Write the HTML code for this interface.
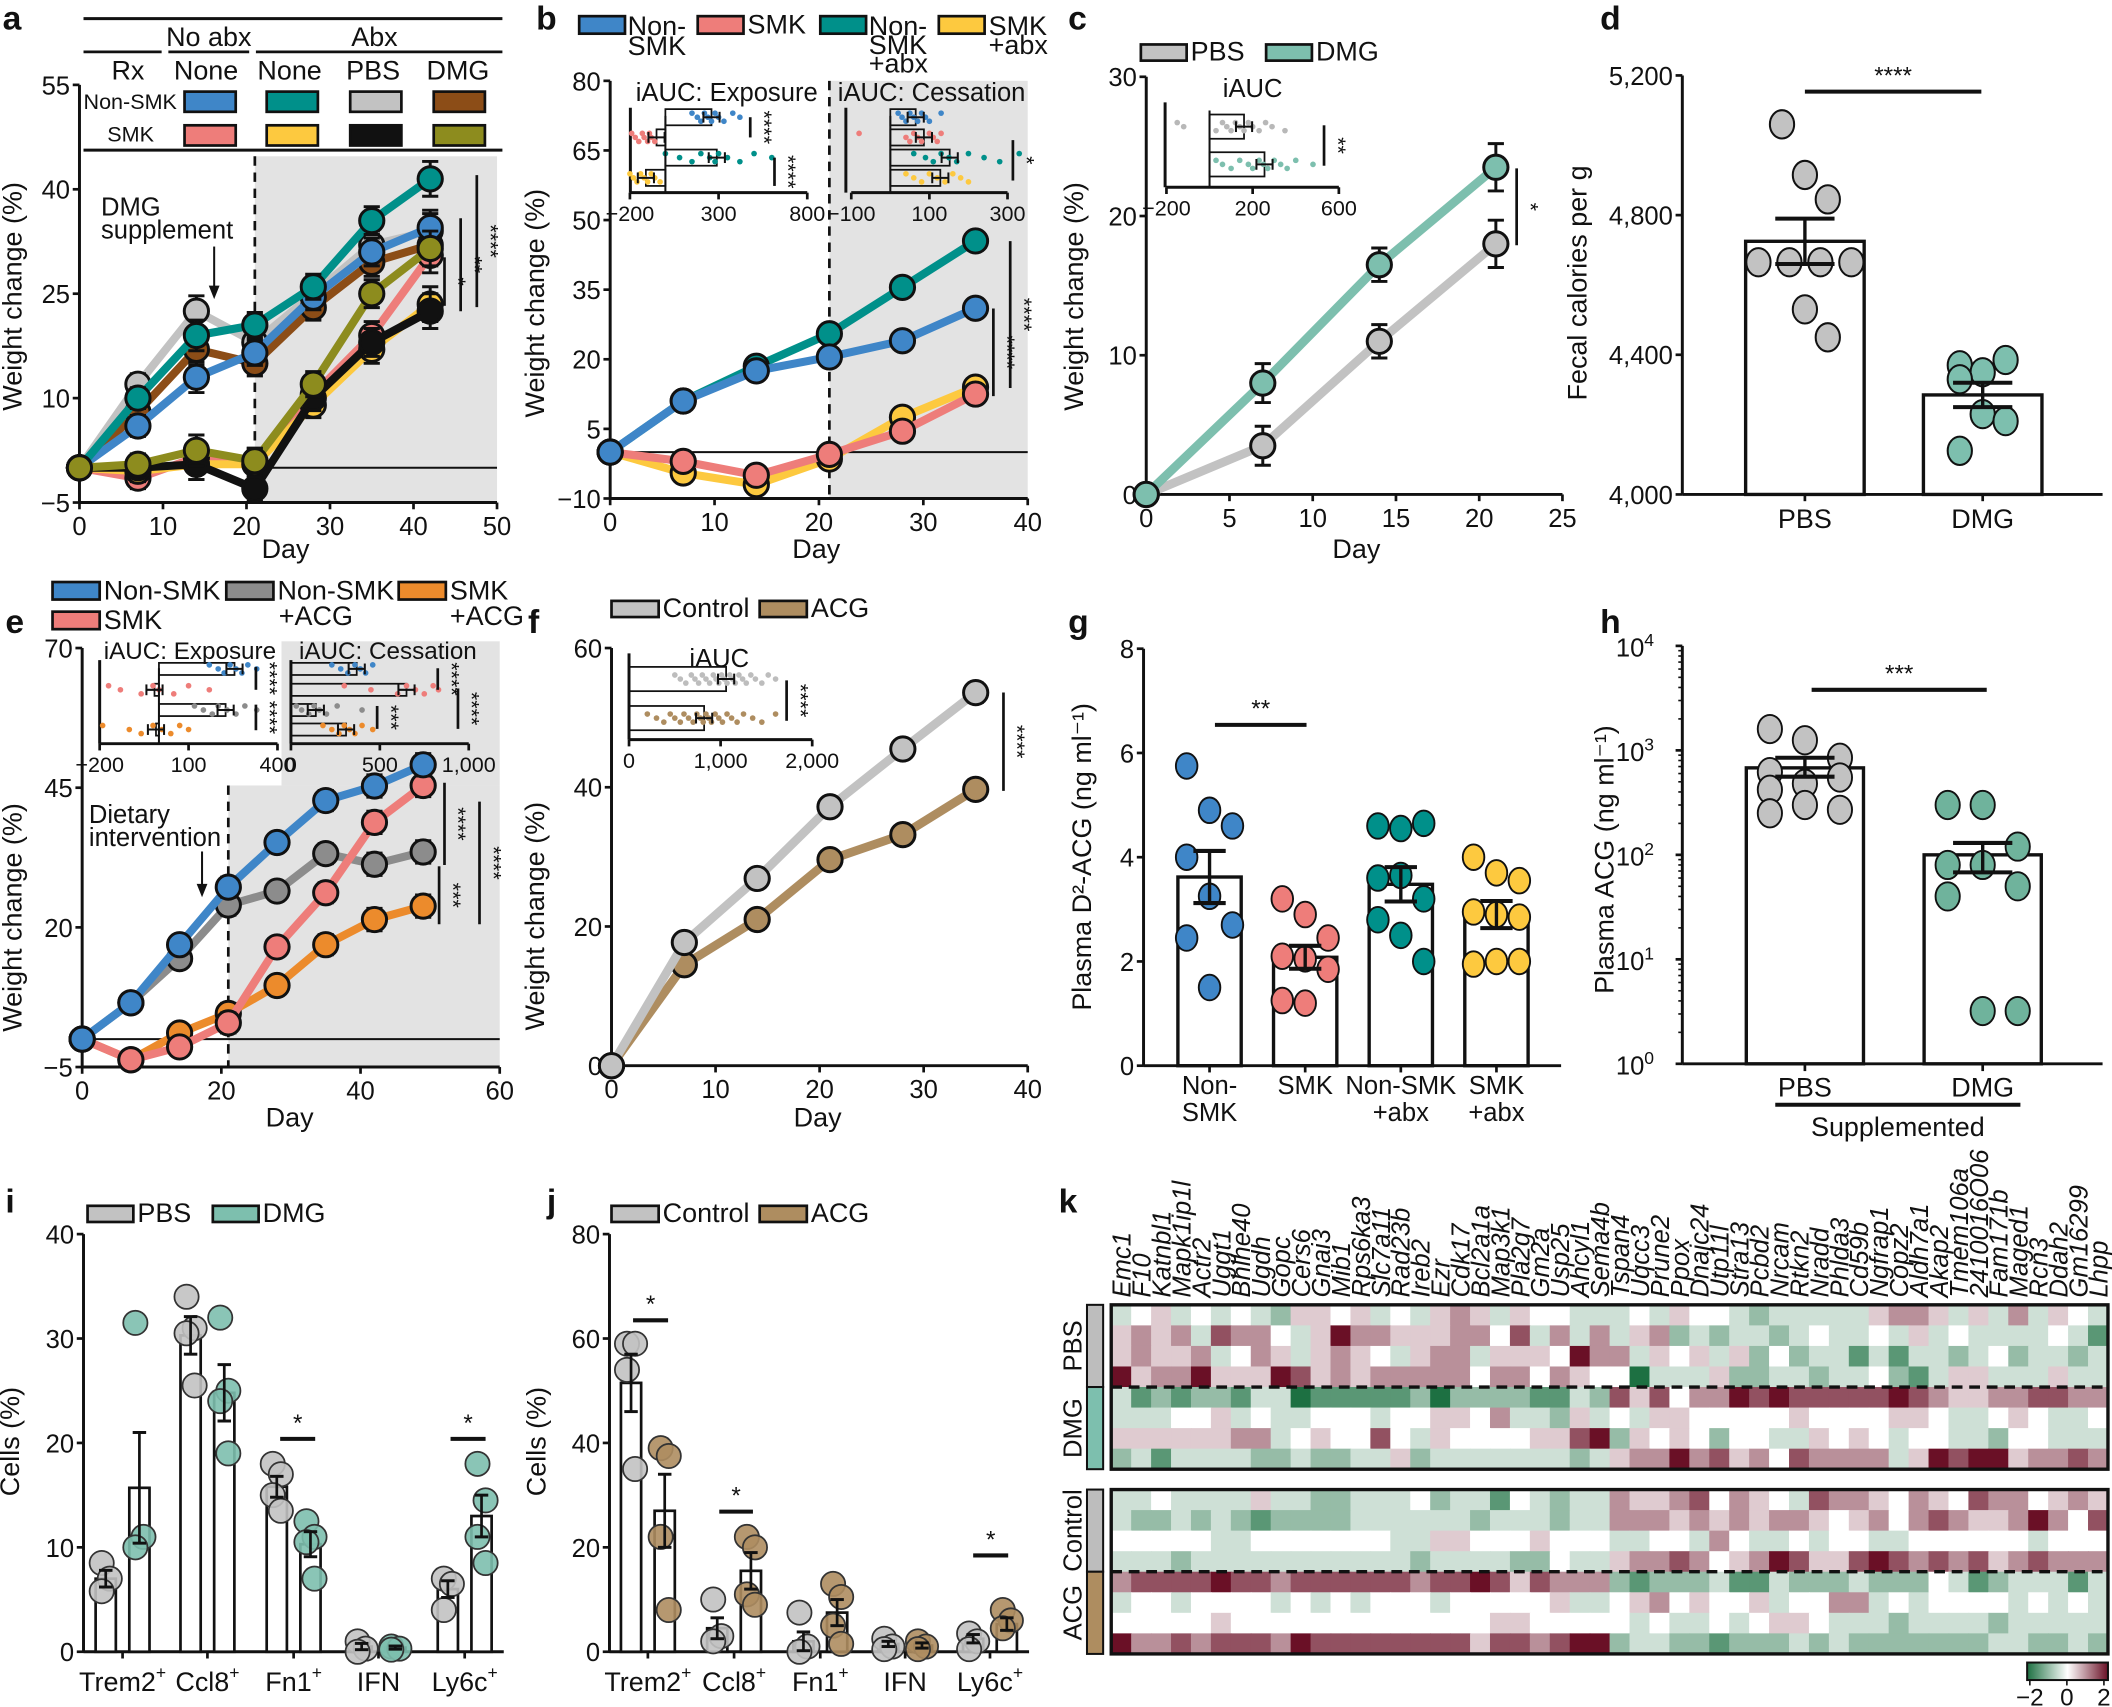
<!DOCTYPE html>
<html><head><meta charset="utf-8"><style>
html,body{margin:0;padding:0;background:#fff;}
svg{display:block;}
text{font-family:"Liberation Sans Narrow","Liberation Sans",Arial,sans-serif;fill:#111;}
</style></head><body>
<svg id="fig" xmlns="http://www.w3.org/2000/svg" width="2112" height="1707" viewBox="0 0 1568 1267" preserveAspectRatio="none"></svg>
<script>
// ---------------- DATA ----------------
const aDays=[0,7,14,21,28,35,42];
const aGray=[0,12,22.5,18,25,32,34];
const aBrown=[0,8,17,15,23,29.5,32];
const aBlue=[0,6,13,16.5,24.5,31,34.5];
const aTeal=[0,10,19,20.5,26,35.5,41.5];
const aPink=[0,-1.5,1.5,1,10.5,19,30.5];
const aOlive=[0,0.5,2.5,1,12,25,31.5];
const aYellow=[0,-0.5,0.5,0.5,9,17,23.5];
const aBlack=[0,0,0.5,-3,10,18,22.5];
const aErr=[0,1.5,2.2,1.8,1.8,2,2.5];
const aXTicks=[0,10,20,30,40,50];
const aYTicks=[-5,10,25,40,55];

const bDays=[0,7,14,21,28,35];
const bBlue=[0,11,17.5,20.5,24,31];
const bTeal=[0,11,18.5,25.5,35.5,45.5];
const bPink=[0,-2,-5,-0.5,4.5,12.5];
const bYellow=[0,-4.5,-7,-1.5,7.5,14];
const bErr=[0,1,1.2,1.5,2,2];
const bXTicks=[0,10,20,30,40];
const bYTicks=[-10,5,20,35,50,65,80];
const bExpMeans=[260,-50,290,-110];
const bExpDots=[[150,180,200,220,240,260,280,300,330,380,420],[-190,-170,-150,-130,-120,-100,-90,-80,-60],[0,80,150,200,250,280,300,350,420,500,600],[-200,-180,-160,-140,-120,-100,-80,-60,-30]];
const bCesMeans=[65,86,152,128];
const bCesDots=[[20,30,40,50,60,70,80,90,100,130],[-80,40,50,60,70,80,100,110,120,130],[60,90,110,130,150,170,200,240,280,330],[40,60,80,100,120,140,160,180,200]];

const cDays=[0,7,14,21];
const cPBS=[0,3.5,11,18];
const cDMG=[0,8,16.5,23.5];
const cErr=[0,1.4,1.2,1.7];
const cXTicks=[0,5,10,15,20,25];
const cYTicks=[0,10,20,30];
const cAucMeans=[160,255];
const cAucDots=[[-150,-120,30,60,80,100,120,140,160,180,200,230,260,290,350],[30,60,100,140,180,200,230,250,270,300,330,360,400,480]];

const dGroups=["PBS","DMG"];
const dMeans=[4725,4285];
const dSem=[65,35];
const dDots=[[5060,4915,4845,4665,4665,4665,4665,4530,4450],[4370,4350,4385,4330,4230,4210,4125]];
const dYTicks=[4000,4400,4800,5200];

const eDays=[0,7,14,21,28,35,42,49];
const eBlue=[0,6.5,16.9,27.2,35.2,42.7,45.3,49.1];
const eGray=[0,6.5,14.4,24,26.5,33.2,31.3,33.5];
const ePink=[0,-3.7,-1.4,2.9,16.5,26.2,38.8,45.4];
const eOrange=[0,-3.7,1.1,4.6,9.6,16.9,21.4,23.8];
const eErr=[0,0.8,1.5,1.8,1,1.8,2,2];
const eXTicks=[0,20,40,60];
const eYTicks=[-5,20,45,70];
const eExpMeans=[255,-15,225,-10];
const eExpDots=[[170,200,220,240,260,280,300,330],[-170,-130,-60,-20,0,50,100,170],[120,150,180,200,230,260,290,330],[-190,-100,-60,-20,10,40,70,100]];
const eCesMeans=[370,650,140,310];
const eCesDots=[[230,280,320,360,390,420,460],[300,450,600,650,700,750,800,830],[30,60,100,130,160,200,260,400],[180,230,270,300,330,360,400,460]];

const fDays=[0,7,14,21,28,35];
const fCtrl=[0,17.7,26.9,37.2,45.5,53.6];
const fACG=[0,14.5,21,29.6,33.2,39.7];
const fErr=[0,0.8,0.8,0.9,1.2,1.4];
const fXTicks=[0,10,20,30,40];
const fYTicks=[0,20,40,60];
const fAucMeans=[1060,820];
const fAucDots=[[500,560,620,680,720,760,800,840,880,920,950,980,1010,1040,1070,1100,1130,1160,1200,1240,1280,1330,1380,1450,1520,1600],[200,300,380,450,500,560,600,650,700,740,780,810,840,870,900,940,980,1020,1070,1120,1180,1250,1350,1450,1600]];

const gCats=[["Non-","SMK"],["SMK"],["Non-SMK","+abx"],["SMK","+abx"]];
const gMeans=[3.62,2.08,3.48,2.9];
const gSem=[0.5,0.22,0.33,0.26];
const gDots=[[5.75,4.9,4.6,4.0,3.25,2.7,2.45,1.5],[3.2,2.9,2.45,2.1,2.05,1.85,1.25,1.2],[4.6,4.55,4.65,3.6,3.65,3.2,2.8,2.5,2.0],[4.0,3.7,3.55,2.95,2.9,2.85,1.95,2.0,2.0]];
const gYTicks=[0,2,4,6,8];

const hMeans=[680,100];
const hLo=[560,68];
const hHi=[850,130];
const hDots=[[1600,1250,850,620,480,550,420,300,270,250],[300,300,120,80,80,50,40,3.2,3.2]];
const hDecades=[0,1,2,3,4];

const iCats=["Trem2","Ccl8","Fn1","IFN","Ly6c"];
const iPBS=[7,30.3,15.8,0.5,6];
const iDMG=[15.7,24.8,10.3,0.4,13];
const iPBSerr=[0.8,1.8,1.0,0.3,0.8];
const iDMGerr=[5.3,2.7,1.2,0.15,2.0];
const iPBSdots=[[8.5,7,5.8],[34,31,30.5,25.5],[18,17,15,13.5],[1,0.3,0],[7,6.5,4]];
const iDMGdots=[[31.5,11,10],[32,25,24,19],[12.5,11,10.5,7],[0.5,0.3,0.2],[18,14.5,11,8.5]];
const iYTicks=[0,10,20,30,40];

const jCtrl=[51.5,4.5,2,1.5,2.5];
const jACG=[27,15.5,7.5,1.2,5.3];
const jCtrlErr=[5.5,2,1.8,0.5,0.8];
const jACGErr=[7,3.5,2.5,0.5,1.2];
const jCtrlDots=[[59,59,54,35],[10,3,2],[7.5,1,0],[2.5,1,0.5],[3.5,2,0.5]];
const jACGDots=[[39,37.5,22,8],[22,20,11,9],[13,10.5,5,1.5],[2,1,0.5],[8,6,4.5]];
const jYTicks=[0,20,40,60,80];

const kGenes=["Emc1","F10","Katnbl1","Mapk1ip1l","Actr2","Uggt1","Bhlhe40","Ugdh","Gopc","Cers6","Gnai3","Mib1","Rps6ka3","Slc7a11","Rad23b","Ireb2","Ezr","Cdk17","Bcl2a1a","Map3k1","Pla2g7","Gm2a","Usp25","Ahcyl1","Sema4b","Tspan4","Uqcc3","Prune2","Ppox","Dnajc24","Utp11l","Stra13","Pcbd2","Nrcam","Rtkn2","Nradd","Phlda3","Cd59b","Ngfrap1","Copz2","Aldh7a1","Akap2","Tmem106a","2410016O06","Fam171b","Maged1","Rcn3","Ddah2","Gm16299","Lhpp"];
// levels 0 (z=-2, green) .. 4 (z=0) .. 8 (z=+2, red)
const kTop=[
"3453434325 5453435653 5443334354 4323333356 6535363543",
"5656376643 5866555664 7363635623 2332343343 5343333431",
"5655634653 5654356635 5548663545 3524233131 3323423323",
"8566855587 5656666646 6465440333 5223323342 1355333533",
"3121221330 1111120222 2113275746 6878777778 7655667766",
"3334453433 4443445546 3325343554 4444544445 5433454334",
"5555556634 5447435444 4557825454 2443354543 4433244333",
"2313333223 2233523333 3332356686 7564766663 5878856676"];
const kBottom=[
"3343333533 2233342331 4323365567 4654376654 6547664565",
"3223232122 2233333323 3323366656 5656654564 6765568647",
"4444433444 4444335544 4544433443 6433434433 4444443444",
"3332333333 3333323333 2243356676 4568755787 6767567666",
"6777787767 7777767787 5766621222 3113222322 2431233313",
"3443444434 3434443444 4453345645 4453446634 3444434343",
"4444454444 4444444445 5444443433 4345543332 3333233333",
"8667677768 7777777757 7678823322 1222323222 2222332232"];
const kScale=[-2,0,2];

// ---------------- HELPERS ----------------
const NS='http://www.w3.org/2000/svg';
const svg=document.getElementById('fig');
function lin(d0,d1,r0,r1){return v=>r0+(v-d0)*(r1-r0)/(d1-d0);}
function mk(tag,attrs,name,parent){
  const e=document.createElementNS(NS,tag);
  for(const k in attrs) e.setAttribute(k,attrs[k]);
  
  
  (parent||svg).appendChild(e);
  return e;
}
function txt(x,y,s,o,name){
  o=o||{};
  const a={x:x,y:y,'font-size':o.fs||18};
  if(o.anchor)a['text-anchor']=o.anchor;
  if(o.weight)a['font-weight']=o.weight;
  if(o.style)a['font-style']=o.style;
  if(o.rot!==undefined)a.transform='rotate('+o.rot+' '+x+' '+y+')';
  if(o.fill)a.fill=o.fill;
  const t=mk('text',a,name);
  t.textContent=s;
  return t;
}
function line(x1,y1,x2,y2,w,name,extra){
  const a={x1:x1,y1:y1,x2:x2,y2:y2,stroke:'#111','stroke-width':w||2};
  if(extra)for(const k in extra)a[k]=extra[k];
  return mk('line',a,name);
}
function rect(x,y,w,h,fill,name,sw){
  return mk('rect',{x:x,y:y,width:w,height:h,fill:fill,stroke:sw===0?'none':'#111','stroke-width':sw||2},name);
}
function yAxis(x,sy,ticks,lo,hi,name,fmt){
  line(x,sy(lo),x,sy(hi),2.2,name+'-line');
  ticks.forEach(t=>{
    line(x-5,sy(t),x,sy(t),2,name+'-tick');
    txt(x-7,sy(t)+7,fmt?fmt(t):String(t).replace('-','\u2212'),{anchor:'end',fs:19},name+'-label');
  });
}
function xAxis(y,sx,ticks,lo,hi,name,fmt,fs){
  line(sx(lo),y,sx(hi),y,2.2,name+'-line');
  ticks.forEach(t=>{
    line(sx(t),y,sx(t),y+5,2,name+'-tick');
    txt(sx(t),y+(fs&&fs<18?21:24),fmt?fmt(t):String(t).replace('-','\u2212'),{anchor:'middle',fs:fs||19},name+'-label');
  });
}
function series(xs,ys,errs,color,sx,sy,name,r,w){
  r=r||9;w=w||6;
  mk('polyline',{points:xs.map((d,i)=>sx(d)+','+sy(ys[i])).join(' '),fill:'none',stroke:color,'stroke-width':w,'stroke-linejoin':'round'},name+'-line');
  xs.forEach((d,i)=>{
    if(errs[i]>0){
      const X=sx(d);
      line(X,sy(ys[i]-errs[i]),X,sy(ys[i]+errs[i]),2.2,name+'-errorbar');
      line(X-6,sy(ys[i]-errs[i]),X+6,sy(ys[i]-errs[i]),2.2,name+'-errorcap');
      line(X-6,sy(ys[i]+errs[i]),X+6,sy(ys[i]+errs[i]),2.2,name+'-errorcap');
    }
  });
  xs.forEach((d,i)=>{
    mk('circle',{cx:sx(d),cy:sy(ys[i]),r:r,fill:color,stroke:'#111','stroke-width':2.2},name+'-point');
  });
}
function stars(x,y1,y2,s,name){
  line(x,y1,x,y2,2,name+'-line');
  txt(x+5,(y1+y2)/2,s,{rot:90,anchor:'middle',fs:16},name+'-stars');
}
function hstars(x1,x2,y,s,name,fs){
  line(x1,y,x2,y,3,name+'-line');
  txt((x1+x2)/2,y-6,s,{anchor:'middle',fs:fs||18},name+'-stars');
}
function swatch(x,y,w,h,color,label,name,fs){
  rect(x,y,w,h,color,name+'-swatch',2);
  if(label)txt(x+w+3,y+h,label,{fs:fs||21},name+'-label');
}
function inset(x0,sx,rows,rowH,means,dots,colors,yTop,yBot,ticks,name,fmt){
  line(x0,yTop,x0,yBot,2.2,name+'-yaxis');
  xAxis(yBot,sx,ticks,ticks[0],ticks[ticks.length-1],name+'-xaxis',fmt,16);
  means.forEach((m,i)=>{
    const yc=rows[i];
    const a=Math.min(sx(0),sx(m)),b=Math.max(sx(0),sx(m));
    rect(a,yc-rowH/2,b-a,rowH,'none',name+'-bar',1.3);
    dots[i].forEach((v,j)=>{
      mk('circle',{cx:sx(v),cy:yc+((j%3)-1)*3,r:2.1,fill:colors[i],stroke:'none'},name+'-dot');
    });
    line(sx(m)-6,yc,sx(m)+6,yc,1.5,name+'-err');
    line(sx(m)-6,yc-4,sx(m)-6,yc+4,1.5,name+'-err');
    line(sx(m)+6,yc-4,sx(m)+6,yc+4,1.5,name+'-err');
  });
  line(sx(0),yTop+6,sx(0),yBot,1.5,name+'-zero');
}
const C={blue:'#3f86c8',pink:'#ee7d7a',teal:'#00908a',yellow:'#fdc93f',gray:'#c2c2c2',black:'#111',brown:'#8c4d17',olive:'#8d8c1e',dmg:'#7dbfae',acg:'#ae8d60',egray:'#8c8c8c',orange:'#ec8b2c'};
function plabel(x,y,s){txt(x,y,s,{fs:25,weight:'bold'},'panel-label-'+s);}

// ---------------- PANEL A ----------------
plabel(2,22,'a');
{
  const sx=lin(0,50,59,369), sy=lin(-5,55,373,63);
  rect(sx(21),116,sx(50)-sx(21),373-116,'#e3e3e3','a-shaded-region',0);
  line(sx(21),347.2,sx(50),347.2,1.5,'a-zero-line');
  line(sx(21),116,sx(21),373,2,'a-dashed-line',{'stroke-dasharray':'7,5'});
  yAxis(59,sy,aYTicks,-5,55,'a-y-axis');
  xAxis(373,sx,aXTicks,0,50,'a-x-axis');
  txt(212,414,'Day',{anchor:'middle',fs:20},'a-x-axis-title');
  txt(16,220,'Weight change (%)',{anchor:'middle',rot:-90,fs:20},'a-y-axis-title');
  line(62,13.8,373,13.8,2.2,'a-table-rule');
  txt(155,34,'No abx',{anchor:'middle',fs:20},'a-header-noabx');
  txt(278,34,'Abx',{anchor:'middle',fs:20},'a-header-abx');
  line(62,38.5,120,38.5,2,'a-table-rule');line(125,38.5,185,38.5,2,'a-table-rule');line(190,38.5,373,38.5,2,'a-table-rule');
  [['Rx',95],['None',153],['None',215],['PBS',277],['DMG',340]].forEach(p=>txt(p[1],59,p[0],{anchor:'middle',fs:20},'a-header-'+p[0].toLowerCase()));
  txt(62,81,'Non-SMK',{fs:16},'a-row-nonsmk');
  txt(97,105,'SMK',{anchor:'middle',fs:16},'a-row-smk');
  [[137,C.blue],[198,C.teal],[260,C.gray],[322,C.brown]].forEach(s=>swatch(s[0],68,38,15,s[1],null,'a-legend-nonsmk'));
  [[137,C.pink],[198,C.yellow],[260,C.black],[322,C.olive]].forEach(s=>swatch(s[0],93,38,15,s[1],null,'a-legend-smk'));
  line(62,111.4,373,111.4,2.2,'a-table-rule');
  txt(75,160,'DMG',{fs:19},'a-annotation');txt(75,177,'supplement',{fs:19},'a-annotation');
  line(159,183,159,216,1.5,'a-arrow');
  mk('polygon',{points:'155,212 163,212 159,222',fill:'#111'},'a-arrowhead');
  series(aDays,aGray,aErr,C.gray,sx,sy,'a-pbs-nonsmk');
  series(aDays,aBrown,aErr,C.brown,sx,sy,'a-dmg-nonsmk');
  series(aDays,aBlue,aErr,C.blue,sx,sy,'a-nonsmk');
  series(aDays,aTeal,aErr,C.teal,sx,sy,'a-nonsmk-abx');
  series(aDays,aPink,aErr,C.pink,sx,sy,'a-smk');
  series(aDays,aYellow,aErr,C.yellow,sx,sy,'a-smk-abx');
  series(aDays,aBlack,aErr,C.black,sx,sy,'a-pbs-smk');
  series(aDays,aOlive,aErr,C.olive,sx,sy,'a-dmg-smk');
  stars(330,191,227,'*','a-sig1');stars(342,162,231,'**','a-sig2');stars(354,130,228,'****','a-sig3');
}
// ---------------- PANEL B ----------------
plabel(398,22,'b');
{
  const sx=lin(0,40,453,763), sy=lin(-10,80,370,60);
  rect(sx(21),60,sx(40)-sx(21),310,'#e3e3e3','b-shaded-region',0);
  line(453,335.6,763,335.6,1.5,'b-zero-line');
  line(sx(21),60,sx(21),370,2,'b-dashed-line',{'stroke-dasharray':'7,5'});
  yAxis(453,sy,bYTicks,-10,80,'b-y-axis');
  xAxis(370,sx,bXTicks,0,40,'b-x-axis');
  txt(606,414,'Day',{anchor:'middle',fs:20},'b-x-axis-title');
  txt(404,225,'Weight change (%)',{anchor:'middle',rot:-90,fs:20},'b-y-axis-title');
  swatch(430,12,34,13,C.blue,null,'b-legend-nonsmk');txt(466,26,'Non-',{fs:20},'b-legend-label');txt(466,41,'SMK',{fs:20},'b-legend-label');
  swatch(518,12,34,13,C.pink,'SMK','b-legend-smk',20);
  swatch(609,12,34,13,C.teal,null,'b-legend-nonsmk-abx');txt(645,26,'Non-',{fs:20},'b-legend-label');txt(645,40,'SMK',{fs:20},'b-legend-label');txt(645,54,'+abx',{fs:20},'b-legend-label');
  swatch(697,12,34,13,C.yellow,null,'b-legend-smk-abx');txt(734,26,'SMK',{fs:20},'b-legend-label');txt(734,40,'+abx',{fs:20},'b-legend-label');
  txt(472,75,'iAUC: Exposure',{fs:19},'b-inset-exposure-title');
  inset(468,lin(0,300,494,533.5),[87,102,117,132],12,bExpMeans,bExpDots,[C.blue,C.pink,C.teal,C.yellow],80,143,[-200,300,800],'b-inset-exposure');
  txt(622,75,'iAUC: Cessation',{fs:19},'b-inset-cessation-title');
  inset(628,lin(0,300,661,748),[87,102,117,132],12,bCesMeans,bCesDots,[C.blue,C.pink,C.teal,C.yellow],80,143,[-100,100,300],'b-inset-cessation');
  stars(557,87,102,'****','b-inset-sig1');stars(575,117,138,'****','b-inset-sig2');stars(752,104,134,'*','b-inset-sig3');
  series(bDays,bYellow,bErr,C.yellow,sx,sy,'b-smk-abx');
  series(bDays,bPink,bErr,C.pink,sx,sy,'b-smk');
  series(bDays,bTeal,bErr,C.teal,sx,sy,'b-nonsmk-abx');
  series(bDays,bBlue,bErr,C.blue,sx,sy,'b-nonsmk');
  stars(737.5,229,294,'****','b-sig1');stars(750,179,288,'****','b-sig2');
}
// ---------------- PANEL C ----------------
plabel(793,22,'c');
{
  const sx=lin(0,25,851,1160), sy=lin(0,30,367,57);
  yAxis(851,sy,cYTicks,0,30,'c-y-axis');
  xAxis(367,sx,cXTicks,0,25,'c-x-axis');
  txt(1007,414,'Day',{anchor:'middle',fs:20},'c-x-axis-title');
  txt(804,220,'Weight change (%)',{anchor:'middle',rot:-90,fs:20},'c-y-axis-title');
  swatch(847,33,34,12,C.gray,'PBS','c-legend-pbs',20);
  swatch(940,33,34,12,C.dmg,'DMG','c-legend-dmg',20);
  txt(930,72,'iAUC',{anchor:'middle',fs:19},'c-inset-title');
  inset(865,lin(0,200,898,930),[94,122],18,cAucMeans,cAucDots,['#b8b8b8',C.dmg],76,139,[-200,200,600],'c-inset');
  stars(983,93,123,'**','c-inset-sig');
  series(cDays,cPBS,cErr,C.gray,sx,sy,'c-pbs',9,6.5);
  series(cDays,cDMG,cErr,C.dmg,sx,sy,'c-dmg',9,6.5);
  stars(1126,125,182,'*','c-sig');
}
// ---------------- PANEL D ----------------
plabel(1188,22,'d');
{
  const sy=lin(4000,5200,367,56);
  const cx=[1340,1472];
  yAxis(1249,sy,dYTicks,4000,5200,'d-y-axis',t=>String(t).replace(/(\d)(\d{3})$/,'$1,$2'));
  line(1249,367,1561,367,2.2,'d-x-axis-line');
  txt(1178,210,'Fecal calories per g',{anchor:'middle',rot:-90,fs:20},'d-y-axis-title');
  dGroups.forEach((g,i)=>{
    rect(cx[i]-44,sy(dMeans[i]),88,367-sy(dMeans[i]),'#fff','d-bar-'+g.toLowerCase(),2.5);
    line(cx[i],367,cx[i],372,2,'d-x-tick');
    txt(cx[i],392,g,{anchor:'middle',fs:20},'d-x-label');
    dDots[i].forEach((v,j)=>{
      const off=(v===dDots[i][j-1]||v===dDots[i][j+1])?((j%4)-1.5)*23:((j%3)-1)*17;
      mk('ellipse',{cx:cx[i]+off,cy:sy(v),rx:9,ry:10.5,fill:i?C.dmg:C.gray,stroke:'#111','stroke-width':1.5},'d-dot');
    });
    line(cx[i],sy(dMeans[i]+dSem[i]),cx[i],sy(dMeans[i]-dSem[i]),2.5,'d-errorbar');
    line(cx[i]-22,sy(dMeans[i]+dSem[i]),cx[i]+22,sy(dMeans[i]+dSem[i]),3,'d-errorcap');
    line(cx[i]-22,sy(dMeans[i]-dSem[i]),cx[i]+22,sy(dMeans[i]-dSem[i]),3,'d-errorcap');
  });
  hstars(1340,1471,68,'****','d-sig');
}
// ---------------- PANEL E ----------------
plabel(4,470,'e');
{
  const sx=lin(0,60,61,371), sy=lin(-5,70,792,481);
  rect(sx(21),583,sx(60)-sx(21),792-583,'#e3e3e3','e-shaded-region',0);
  rect(209,476,371-209,107,'#e3e3e3','e-shaded-region-inset',0);
  line(61,771.3,371,771.3,1.5,'e-zero-line');
  line(sx(21),583,sx(21),792,2,'e-dashed-line',{'stroke-dasharray':'7,5'});
  yAxis(61,sy,eYTicks,-5,70,'e-y-axis');
  xAxis(792,sx,eXTicks,0,60,'e-x-axis');
  txt(215,836,'Day',{anchor:'middle',fs:20},'e-x-axis-title');
  txt(16,681,'Weight change (%)',{anchor:'middle',rot:-90,fs:20},'e-y-axis-title');
  swatch(39,432,35,13,C.blue,'Non-SMK','e-legend-nonsmk',20);
  swatch(39,454,35,13,C.pink,'SMK','e-legend-smk',20);
  swatch(168,432,35,13,C.egray,'Non-SMK','e-legend-nonsmk-acg',20);txt(207,464,'+ACG',{fs:20},'e-legend-label');
  swatch(296,432,35,13,C.orange,'SMK','e-legend-smk-acg',20);txt(334,464,'+ACG',{fs:20},'e-legend-label');
  txt(77,489,'iAUC: Exposure',{fs:18},'e-inset-exposure-title');
  inset(74,lin(0,100,118,140),[496.5,512,527,541.5],9,eExpMeans,eExpDots,[C.blue,C.pink,C.egray,C.orange],490,552,[-200,100,400],'e-inset-exposure');
  txt(222,489,'iAUC: Cessation',{fs:18},'e-inset-cessation-title');
  inset(216,lin(0,500,216,282),[496.5,512,527,541.5],9,eCesMeans,eCesDots,[C.blue,C.pink,C.egray,C.orange],490,552,[0,500,1000],'e-inset-cessation',t=>t===1000?'1,000':String(t));
  stars(190,495,512,'****','e-inset-sig1');stars(190,523,542,'****','e-inset-sig2');
  stars(325,496,512,'****','e-inset-sig3');stars(340,511,541,'****','e-inset-sig4');stars(280,524,541,'***','e-inset-sig5');
  txt(66,611,'Dietary',{fs:19},'e-annotation');txt(66,628,'intervention',{fs:19},'e-annotation');
  line(150,632,150,660,1.5,'e-arrow');
  mk('polygon',{points:'146,656 154,656 150,666',fill:'#111'},'e-arrowhead');
  series(eDays,eOrange,eErr,C.orange,sx,sy,'e-smk-acg');
  series(eDays,eGray,eErr,C.egray,sx,sy,'e-nonsmk-acg');
  series(eDays,ePink,eErr,C.pink,sx,sy,'e-smk');
  series(eDays,eBlue,eErr,C.blue,sx,sy,'e-nonsmk');
  stars(330,581,642,'****','e-sig1');stars(326,643,686,'***','e-sig2');stars(356,595,686,'****','e-sig3');
}
// ---------------- PANEL F ----------------
plabel(392,470,'f');
{
  const sx=lin(0,40,454,763), sy=lin(0,60,791,481);
  yAxis(454,sy,fYTicks,0,60,'f-y-axis');
  xAxis(791,sx,fXTicks,0,40,'f-x-axis');
  txt(607,836,'Day',{anchor:'middle',fs:20},'f-x-axis-title');
  txt(404,680,'Weight change (%)',{anchor:'middle',rot:-90,fs:20},'f-y-axis-title');
  swatch(454,446,35,12,C.gray,'Control','f-legend-control',20);
  swatch(564,446,35,12,C.acg,'ACG','f-legend-acg',20);
  txt(534,495,'iAUC',{anchor:'middle',fs:19},'f-inset-title');
  inset(467,lin(0,1000,467,535),[504,533],18,fAucMeans,fAucDots,['#bdbdbd',C.acg],485,549,[0,1000,2000],'f-inset',t=>t?String(t).replace(/(\d)(\d{3})$/,'$1,$2'):'0');
  stars(584,505,535,'****','f-inset-sig');
  series(fDays,fACG,fErr,C.acg,sx,sy,'f-acg',9,6.5);
  series(fDays,fCtrl,fErr,C.gray,sx,sy,'f-control',9,6.5);
  stars(745,514,587,'****','f-sig');
}
// ---------------- PANEL G ----------------
plabel(793,470,'g');
{
  const sy=lin(0,8,791,481.5);
  const cx=[898,969,1040,1111];
  const cols=[C.blue,C.pink,C.teal,C.yellow];
  yAxis(849,sy,gYTicks,0,8,'g-y-axis');
  line(849,791,1159,791,2.2,'g-x-axis-line');
  txt(810,636,'Plasma D\u00B2-ACG (ng ml\u207B\u00B9)',{anchor:'middle',rot:-90,fs:20},'g-y-axis-title');
  gMeans.forEach((m,i)=>{
    rect(cx[i]-23.5,sy(m),47,791-sy(m),'#fff','g-bar',2.5);
    line(cx[i],791,cx[i],796,2,'g-x-tick');
    gCats[i].forEach((s,k)=>txt(cx[i],812+k*20,s,{anchor:'middle',fs:19},'g-x-label'));
    gDots[i].forEach((v,j)=>{
      mk('ellipse',{cx:cx[i]+((j%3)-1)*17,cy:sy(v),rx:8,ry:9.5,fill:cols[i],stroke:'#111','stroke-width':1.4},'g-dot');
    });
    line(cx[i],sy(m+gSem[i]),cx[i],sy(m-gSem[i]),2.5,'g-errorbar');
    line(cx[i]-12,sy(m+gSem[i]),cx[i]+12,sy(m+gSem[i]),3,'g-errorcap');
    line(cx[i]-12,sy(m-gSem[i]),cx[i]+12,sy(m-gSem[i]),3,'g-errorcap');
  });
  hstars(902,970,538,'**','g-sig');
}
// ---------------- PANEL H ----------------
plabel(1188,470,'h');
{
  const sy=v=>789.6-Math.log10(v)*77.55;
  const cx=[1340,1472];
  line(1249,sy(1),1249,sy(10000),2.2,'h-y-axis-line');
  hDecades.forEach(d=>{
    line(1244,sy(Math.pow(10,d)),1249,sy(Math.pow(10,d)),2,'h-y-tick');
    const t=txt(1228,sy(Math.pow(10,d))+8,'10',{anchor:'end',fs:19},'h-y-label');
    const ts=document.createElementNS(NS,'tspan');ts.setAttribute('dy','-8');ts.setAttribute('font-size','13');ts.textContent=String(d);t.appendChild(ts);
    t.setAttribute('x',1228);
    if(d<4)for(let m=2;m<10;m++)line(1246,sy(m*Math.pow(10,d)),1249,sy(m*Math.pow(10,d)),1.2,'h-y-minor-tick');
  });
  line(1249,789.6,1561,789.6,2.2,'h-x-axis-line');
  txt(1198,638,'Plasma ACG (ng ml\u207B\u00B9)',{anchor:'middle',rot:-90,fs:20},'h-y-axis-title');
  ['PBS','DMG'].forEach((g,i)=>{
    rect(cx[i]-43.5,sy(hMeans[i]),87,789.6-sy(hMeans[i]),'#fff','h-bar-'+g.toLowerCase(),2.5);
    line(cx[i],789.6,cx[i],795,2,'h-x-tick');
    txt(cx[i],814,g,{anchor:'middle',fs:20},'h-x-label');
    hDots[i].forEach((v,j)=>{
      mk('ellipse',{cx:cx[i]+((j%3)-1)*26,cy:sy(v),rx:9,ry:10.5,fill:i?'#6fb39c':C.gray,stroke:'#111','stroke-width':1.4},'h-dot');
    });
    line(cx[i],sy(hHi[i]),cx[i],sy(hLo[i]),2.5,'h-errorbar');
    line(cx[i]-22,sy(hHi[i]),cx[i]+22,sy(hHi[i]),3,'h-errorcap');
    line(cx[i]-22,sy(hLo[i]),cx[i]+22,sy(hLo[i]),3,'h-errorcap');
  });
  hstars(1345,1475,512,'***','h-sig');
  line(1318,820,1500,820,3,'h-supplemented-line');
  txt(1409,843,'Supplemented',{anchor:'middle',fs:20},'h-supplemented-label');
}
// ---------------- PANELS I & J ----------------
function cellPanel(x0,xEnd,centers,sy,ticks,vals1,vals2,e1,e2,d1,d2,c1,c2,pre){
  yAxis(x0,sy,ticks,0,ticks[ticks.length-1],pre+'-y-axis');
  line(x0,1226,xEnd,1226,2.2,pre+'-x-axis-line');
  centers.forEach((cx,i)=>{
    [[vals1,e1,d1,c1,-12.5],[vals2,e2,d2,c2,12.5]].forEach(s=>{
      const bx=cx+s[4], v=s[0][i], er=s[1][i];
      rect(bx-7.5,sy(v),15,1226-sy(v),'#fff',pre+'-bar-'+iCats[i].toLowerCase(),2);
      s[2][i].forEach((dv,j)=>mk('circle',{cx:bx+((j%2)?3:-3),cy:sy(dv),r:9,fill:s[3],stroke:'#333','stroke-width':1.3,'fill-opacity':0.9},pre+'-dot'));
      line(bx,sy(v+er),bx,sy(v-er),2,pre+'-errorbar');
      line(bx-5,sy(v+er),bx+5,sy(v+er),2.2,pre+'-errorcap');
      line(bx-5,sy(v-er),bx+5,sy(v-er),2.2,pre+'-errorcap');
    });
    line(cx,1226,cx,1231,2,pre+'-x-tick');
    const t=txt(cx,1255,iCats[i],{anchor:'middle',fs:20},pre+'-x-label');
    if(iCats[i]!=='IFN'){const ts=document.createElementNS(NS,'tspan');ts.setAttribute('dy','-9');ts.setAttribute('font-size','13');ts.textContent='+';t.appendChild(ts);}
  });
}
plabel(4,900,'i');
{
  const sy=lin(0,40,1226,916);
  cellPanel(62,374,[91,154,218,281,345],sy,iYTicks,iPBS,iDMG,iPBSerr,iDMGerr,iPBSdots,iDMGdots,C.gray,C.dmg,'i');
  txt(14,1070,'Cells (%)',{anchor:'middle',rot:-90,fs:20},'i-y-axis-title');
  swatch(65,895,34,12,C.gray,'PBS','i-legend-pbs',20);
  swatch(158,895,34,12,C.dmg,'DMG','i-legend-dmg',20);
  hstars(208,234,1068,'*','i-sig-fn1');hstars(334.5,360.5,1068,'*','i-sig-ly6c');
}
plabel(406,900,'j');
{
  const sy=lin(0,80,1226,916);
  cellPanel(452.5,764,[481,545,609,672,735],sy,jYTicks,jCtrl,jACG,jCtrlErr,jACGErr,jCtrlDots,jACGDots,C.gray,C.acg,'j');
  txt(405,1070,'Cells (%)',{anchor:'middle',rot:-90,fs:20},'j-y-axis-title');
  swatch(454,895,35,12,C.gray,'Control','j-legend-control',20);
  swatch(564,895,35,12,C.acg,'ACG','j-legend-acg',20);
  hstars(470,496,980,'*','j-sig-trem2');hstars(534,559,1122,'*','j-sig-ccl8');hstars(722.5,748.5,1154.5,'*','j-sig-ly6c');
}
// ---------------- PANEL K ----------------
plabel(786,900,'k');
{
  const x0=825,x1=1565,cw=(x1-x0)/kGenes.length;
  function col(level){
    const z=(level-4)/2;
    const g=[29,112,66], w=[255,255,255], r=[106,16,38];
    const t=Math.min(1,Math.abs(z)/2), tgt=z<0?g:r;
    const c=w.map((v,k)=>Math.round(v+(tgt[k]-v)*Math.pow(t,1.1)));
    return 'rgb('+c.join(',')+')';
  }
  function block(rows,yTop,name){
    const rh=(122)/8;
    rows.forEach((rs,ri)=>{
      const s=rs.replace(/ /g,'');
      for(let ci=0;ci<kGenes.length;ci++){
        mk('rect',{x:x0+ci*cw,y:yTop+ri*rh,width:cw+0.6,height:rh+0.6,fill:col(+s[ci])},name+'-cell');
      }
    });
    rect(x0,yTop,x1-x0,122,'none',name+'-border',2.5);
    line(x0,yTop+61,x1,yTop+61,2.5,name+'-divider',{'stroke-dasharray':'8,5'});
  }
  block(kTop,968.5,'k-heatmap-dmg');
  block(kBottom,1105.6,'k-heatmap-acg');
  kGenes.forEach((g,i)=>txt(x0+i*cw+cw/2+7,963,g,{rot:-90,fs:19,style:'italic'},'k-gene-label'));
  rect(807,968.5,12,61,'#bdbdbd','k-group-pbs',1.5);rect(807,1029.5,12,61,C.dmg,'k-group-dmg',1.5);
  rect(807,1105.6,12,61,'#bdbdbd','k-group-control',1.5);rect(807,1166.6,12,61,C.acg,'k-group-acg',1.5);
  txt(803,999,'PBS',{anchor:'middle',rot:-90,fs:19},'k-label-pbs');
  txt(803,1060,'DMG',{anchor:'middle',rot:-90,fs:19},'k-label-dmg');
  txt(803,1136,'Control',{anchor:'middle',rot:-90,fs:19},'k-label-control');
  txt(803,1197,'ACG',{anchor:'middle',rot:-90,fs:19},'k-label-acg');
  const defs=mk('defs',{},'k-defs');
  const lg=mk('linearGradient',{id:'kgrad',x1:'0',x2:'1',y1:'0',y2:'0'},'k-gradient',defs);
  [[0,0],[0.5,4],[1,8]].forEach(s=>mk('stop',{offset:s[0],'stop-color':col(s[1])},'k-gradient-stop',lg));
  mk('rect',{x:1505,y:1234,width:60,height:13,fill:'url(#kgrad)',stroke:'#111','stroke-width':1.5},'k-colorbar');
  const cbx=lin(-2,2,1507,1562);
  kScale.forEach(v=>{
    line(cbx(v),1247,cbx(v),1251,1.2,'k-colorbar-tick');
    txt(cbx(v),1266,String(v).replace('-','\u2212'),{anchor:'middle',fs:18},'k-colorbar-label');
  });
}
</script>
</body></html>
